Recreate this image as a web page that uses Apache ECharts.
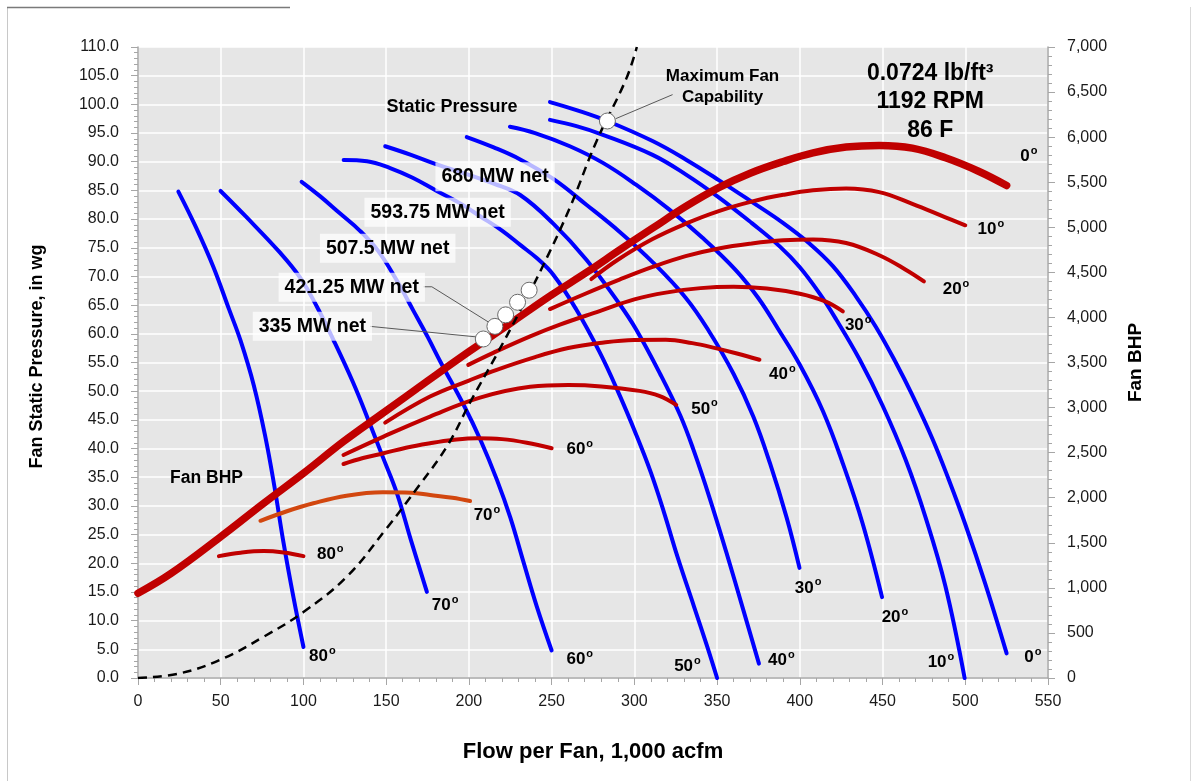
<!DOCTYPE html>
<html><head><meta charset="utf-8">
<script src="https://cdn.jsdelivr.net/npm/echarts@6/dist/echarts.min.js"></script>
<style>html,body{margin:0;padding:0;background:#fff}#c{width:1195px;height:781px}</style>
</head><body><div id="c"></div>
<script>
// ---------------- DATA ----------------
// Static pressure curves (x = flow 1,000 acfm, y = in wg), by blade angle
const sp0  = [[249,100.4],[265,99],[283.6,97.1],[311,93.6],[331,90.4],[351,86.8],[371,83],[390,79.3],[406,75.7],[420,71.8],[434,66.5],[446,61.2],[458,55],[468,49.3],[480,41.8],[490,34.6],[500,26.8],[512,16.5],[525,4.3]];
const sp10 = [[249,97.3],[265,96.2],[281,94.7],[311,91.2],[331,87.8],[351,83.8],[371,79.3],[388,75.2],[400,71.6],[412,67],[422,62.5],[436,55.6],[450,47.5],[464,38],[476,28],[488,16],[499.6,0]];
const sp20 = [[224.8,96.1],[240,95],[261,92.7],[281,89.8],[301,86],[321,81.7],[341,76.8],[361,71.2],[375,66.2],[387,60.8],[400,54.6],[414,46.5],[426,37.4],[438,26.9],[449.7,14.1]];
const sp30 = [[198.7,94.3],[215,92.5],[231,90.4],[251,87],[271,82.5],[291,77.8],[311,72.5],[331,66.3],[345,60.5],[360,53],[372,45.5],[382,37.4],[392,28],[399.8,19.2]];
const sp40 = [[149.4,92.7],[165,91.2],[180,89.6],[200,87.7],[215,86.2],[231,84.2],[251,79.2],[271,72.9],[291,65.2],[301,60.8],[315.6,53],[327.7,45.8],[335.7,39.8],[345.7,31.2],[355.7,21.8],[365.7,12],[375.3,2.5]];
const sp50 = [[124.3,90.3],[138.4,90.1],[152.4,88.9],[166,87.2],[180.6,84.9],[195,82.7],[206.7,80.5],[220,78],[231,75.5],[241,73.2],[251,70.3],[265,64.2],[279,56.8],[290,50],[301,42.5],[310,35.8],[318,28.8],[326,21.2],[336,12.5],[344,5.5],[350,0]];
const sp60 = [[98.9,86.5],[110,84],[122,81],[134,78],[145,74.5],[156,69.5],[166.5,64],[175,59.5],[183,55],[197,47.5],[207,41.5],[217,34.5],[225,28],[233,20.2],[241,12.5],[250,4.8]];
const sp70 = [[49.9,84.9],[65,80.5],[86,74.1],[98,69.8],[108,64.8],[118,59],[130,51.5],[140,44.4],[148,38.5],[156.5,32.2],[165,24],[174.6,15]];
const sp80 = [[24.4,84.8],[35,78.6],[45.5,71.7],[55,64.3],[62,58.8],[70,51],[77,42],[82.5,33.3],[88,23.5],[94,14],[100,5.4]];

// Fan BHP curves (x = flow, y = BHP), by blade angle
const bhp0  = [[0,940],[20,1160],[50,1567],[76,1938],[100,2271],[124,2620],[148,2938],[176,3308],[200,3620],[227,3960],[250,4250],[272,4510],[292,4760],[311,4990],[331,5230],[351,5440],[370,5600],[390,5730],[408,5826],[428,5890],[448,5908],[468,5878],[488,5771],[508,5622],[525,5463]];
const bhp10 = [[274,4426],[290,4640],[311,4870],[331,5040],[351,5180],[372,5290],[390,5360],[408,5410],[428,5430],[448,5390],[468,5260],[488,5110],[500,5022]];
const bhp20 = [[249,4093],[270,4260],[291,4419],[311,4560],[331,4680],[351,4765],[371,4820],[390,4855],[408,4865],[428,4825],[448,4690],[464,4530],[475,4400]];
const bhp30 = [[199.6,3474],[215,3610],[237,3790],[255,3920],[279,4070],[300,4200],[319,4275],[340,4325],[360,4340],[380,4320],[400,4262],[415,4180],[426,4067]];
const bhp40 = [[149.4,2833],[176.5,3122],[200,3300],[216.8,3419],[240,3560],[260,3660],[279,3716],[300,3750],[319,3752],[335,3715],[349,3660],[362,3600],[375.6,3530]];
const bhp50 = [[124.2,2474],[148.4,2678],[176.5,2900],[206.7,3110],[237,3230],[260,3250],[280,3235],[303,3185],[315,3130],[325.3,3030]];
const bhp60 = [[124.2,2374],[136,2440],[148.4,2493],[162,2555],[176.5,2604],[190,2640],[205,2660],[220,2650],[235,2610],[250,2549]];
const bhp70 = [[74,1744],[90,1850],[106,1938],[126,2022],[148,2060],[165,2055],[176.5,2030],[190,2000],[200.7,1963]];
const bhp80 = [[48.9,1352],[62,1390],[76,1408],[88,1392],[100,1352]];

// System resistance (dashed)
const systemCurve = [[0,0],[25,0.8],[50,3.2],[76,7.2],[100,11.5],[126,17.6],[150,26],[170,33.6],[187,40.5],[201,48.2],[217,56.5],[230,63.5],[245,72],[261,82],[277,93.5],[295,104.4],[301.5,110]];

// Operating points
const mwPoints = [[208.7,59.1],[215.7,61.3],[222.2,63.3],[229.4,65.5],[236.4,67.6]];
const mwLabels = ['335 MW net','421.25 MW net','507.5 MW net','593.75 MW net','680 MW net'];
const maxFanPoint = [[283.7,97.1]];

// Angle names and axis ticks
const angles = ['0','10','20','30','40','50','60','70','80'];
const xTickStep = 50, xMax = 550;
const yLeftStep = 5, yLeftMax = 110;
const yRightStep = 500, yRightMax = 7000;

// ---------------- ANNOTATION ANCHORS (data units, left axis) ----------------
const spLabelAt  = [[540.8,3.6],[485.3,2.7],[457.5,10.6],[405,15.7],[388.8,3.1],[332.1,2.0],[267,3.3],[185.6,12.7],[111.4,3.8]];
const bhpLabelAt = [[538.4,90.9],[515.5,78.2],[494.4,67.7],[435.3,61.4],[389.4,53],[342.4,46.9],[267,39.8],[210.9,28.4],[116.2,21.6]];
const mwLabelAt  = [[105.4,61.3],[129.2,68.1],[150.9,74.9],[181.1,81.2],[215.8,87.4]];
const leader335  = [[140.3,61.3],[206.7,59.4]];
const leader421  = [[172.6,68.2],[177.6,68.2],[212.1,62.0]];
const leaderMax  = [[288.7,97.5],[323.1,101.7]];

// ---------------- CHART ----------------
const FONT = '"Liberation Sans", Arial, sans-serif';
const BLUE = '#0000ff', RED = '#c00000', ORANGE = '#d2470f';
const chart = echarts.init(document.getElementById('c'));

function curve(data, color, width, yIdx, z, extra) {
  return Object.assign({type:'line', data, yAxisIndex:yIdx, symbol:'none', smooth:0.4, z, silent:true,
    lineStyle:{color, width, cap:'round', join:'round'}}, extra || {});
}
const spList  = [sp0, sp10, sp20, sp30, sp40, sp50, sp60, sp70, sp80];
const bhpList = [bhp0, bhp10, bhp20, bhp30, bhp40, bhp50, bhp60, bhp70, bhp80];

const series = [];
spList.forEach(d => series.push(curve(d, BLUE, 4, 0, 2)));
bhpList.forEach((d, i) => series.push(curve(d, i === 7 ? ORANGE : RED, i === 0 ? 7.5 : 4, 1, 3)));
series.push(curve(systemCurve, '#000', 2.5, 0, 4, {lineStyle:{color:'#000', width:2.5, type:[9,6]}}));
[leader335, leader421, leaderMax].forEach(d => series.push({type:'line', data:d, yAxisIndex:0, symbol:'none', z:5, silent:true, lineStyle:{color:'#595959', width:1}}));
series.push({type:'scatter', data:mwPoints.concat(maxFanPoint), yAxisIndex:0, symbol:'circle', symbolSize:16, z:6, silent:true,
  itemStyle:{color:'#fff', borderColor:'#6b6b6b', borderWidth:1, opacity:1}});

const degRich = {
  n:{fontFamily:FONT, fontSize:17, fontWeight:'bold', color:'#000'},
  s:{fontFamily:FONT, fontSize:11, fontWeight:'bold', color:'#000', padding:[0,0,11,1]}
};
series.push({type:'scatter', yAxisIndex:0, symbolSize:0, z:8, silent:true, itemStyle:{opacity:1},
  data: spLabelAt.map((p,i)=>({value:p, label:{formatter:'{n|'+angles[i]+'}{s|o}'}})).concat(
        bhpLabelAt.map((p,i)=>({value:p, label:{formatter:'{n|'+angles[i]+'}{s|o}'}}))),
  label:{show:true, position:'inside', rich:degRich}});
series.push({type:'scatter', yAxisIndex:0, symbolSize:0, z:9, silent:true, itemStyle:{opacity:1},
  data: mwLabelAt.map((p,i)=>({value:p, label:{formatter:mwLabels[i]}})),
  label:{show:true, position:'inside', fontFamily:FONT, fontSize:19.5, fontWeight:'bold', color:'#000',
    backgroundColor:'rgba(255,255,255,0.72)', padding:[5,6,4,6]}});

const notes = [
  {text:'Static Pressure', at:[189.8,99.6], size:18},
  {text:'Fan BHP', at:[41.4,34.9], size:17.5},
  {text:'Maximum Fan', at:[353.3,104.9], size:17},
  {text:'Capability', at:[353.3,101.2], size:17},
  {text:'0.0724 lb/ft³', at:[478.8,105.4], size:23},
  {text:'1192 RPM', at:[478.8,100.4], size:23},
  {text:'86 F', at:[478.8,95.4], size:23}
];
series.push({type:'scatter', yAxisIndex:0, symbolSize:0, z:9, silent:true, itemStyle:{opacity:1},
  data: notes.map(n=>({value:n.at, label:{formatter:n.text, fontSize:n.size}})),
  label:{show:true, position:'inside', fontFamily:FONT, fontWeight:'bold', color:'#000'}});

const AX = '#a6a6a6';
const option = {
  animation:false,
  backgroundColor:'#fff',
  textStyle:{fontFamily:FONT},
  grid:{left:138, right:147, top:47, bottom:103, show:true, backgroundColor:'#e6e6e6', borderWidth:0},
  xAxis:{type:'value', min:0, max:xMax, interval:xTickStep,
    axisLine:{show:true, onZero:false, lineStyle:{color:AX, width:1.5}},
    axisTick:{show:true, length:7, lineStyle:{color:AX}},
    minorTick:{show:true, splitNumber:5, length:4, lineStyle:{color:AX}},
    splitLine:{show:true, lineStyle:{color:'#ffffff', width:1.5}},
    axisLabel:{fontFamily:FONT, fontSize:16, color:'#1a1a1a', margin:16},
    name:'Flow per Fan, 1,000 acfm', nameLocation:'middle', nameGap:63,
    nameTextStyle:{fontFamily:FONT, fontSize:22, fontWeight:'bold', color:'#000'}},
  yAxis:[
    {type:'value', min:0, max:yLeftMax, interval:yLeftStep, position:'left',
      axisLine:{show:true, lineStyle:{color:AX, width:1.5}},
      axisTick:{show:true, length:7, lineStyle:{color:AX}},
      minorTick:{show:true, splitNumber:5, length:4, lineStyle:{color:AX}},
      splitLine:{show:true, lineStyle:{color:'#ffffff', width:1.5}},
      axisLabel:{fontFamily:FONT, fontSize:16, color:'#1a1a1a', margin:19, formatter:v=>v.toFixed(1)},
      name:'Fan Static Pressure, in wg', nameLocation:'middle', nameGap:92, nameRotate:90,
      nameTextStyle:{fontFamily:FONT, fontSize:18, fontWeight:'bold', color:'#000', padding:[0,0,0,12]}},
    {type:'value', min:0, max:yRightMax, interval:yRightStep, position:'right',
      axisLine:{show:true, lineStyle:{color:AX, width:1.5}},
      axisTick:{show:true, length:7, lineStyle:{color:AX}},
      minorTick:{show:true, splitNumber:5, length:4, lineStyle:{color:AX}},
      splitLine:{show:false},
      axisLabel:{fontFamily:FONT, fontSize:16, color:'#1a1a1a', margin:19, formatter:v=>v.toLocaleString('en-US')},
      name:'Fan BHP', nameLocation:'middle', nameGap:78, nameRotate:90,
      nameTextStyle:{fontFamily:FONT, fontSize:19, fontWeight:'bold', color:'#000'}}
  ],
  graphic:[
    {type:'line', shape:{x1:7.5,y1:7,x2:7.5,y2:781}, style:{stroke:'#c8c8c8', lineWidth:1}},
    {type:'line', shape:{x1:7,y1:7.5,x2:290,y2:7.5}, style:{stroke:'#7a7a7a', lineWidth:1.5}},
    {type:'line', shape:{x1:1190.5,y1:7,x2:1190.5,y2:781}, style:{stroke:'#d9d9d9', lineWidth:1}}
  ],
  series
};
chart.setOption(option);
</script></body></html>
